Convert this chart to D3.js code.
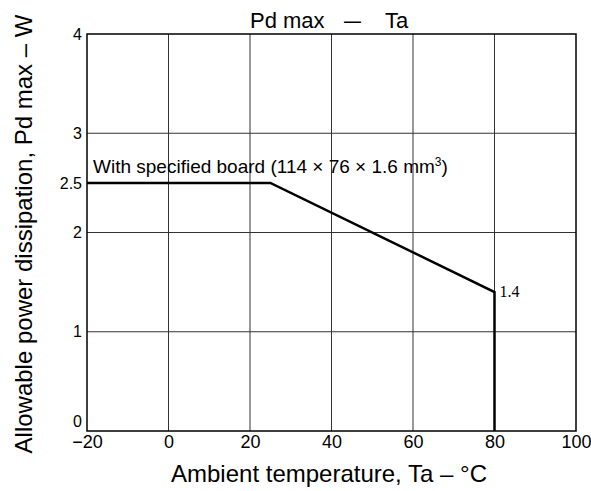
<!DOCTYPE html>
<html>
<head>
<meta charset="utf-8">
<script src="https://cdn.jsdelivr.net/npm/d3@7"></script>
<style>
  body { margin: 0; background: #fff; }
  svg text { fill: #000; }
</style>
</head>
<body>
<div id="chart"></div>
<script>
// derating curve, Pd max vs Ta
var temps = [-20, 25, 80, 80];
var power = [2.5, 2.5, 1.4, 0];
var xTicks = [-20, 0, 20, 40, 60, 80, 100];
var yTicks = [0, 1, 2, 2.5, 3, 4];
var yGrid = [1, 2, 3];

var width = 591, height = 491;
var margin = { top: 34, right: 15, bottom: 60, left: 87 };
var sans = "Arial, 'Liberation Sans', sans-serif";
var serif = "'Liberation Serif', 'DejaVu Serif', serif";

var svg = d3.select("#chart").append("svg")
  .attr("width", width)
  .attr("height", height)
  .style("font-family", sans);

var x = d3.scaleLinear().domain([-20, 100]).range([margin.left, 576]);
var y = d3.scaleLinear().domain([0, 4]).range([431, margin.top]);

// grid
svg.append("g").selectAll("line").data(xTicks.slice(1, -1)).enter().append("line")
  .attr("x1", d => x(d)).attr("x2", d => x(d))
  .attr("y1", y(0)).attr("y2", y(4))
  .attr("stroke", "#333").attr("stroke-width", 1);

svg.append("g").selectAll("line").data(yGrid).enter().append("line")
  .attr("x1", x(-20)).attr("x2", x(100))
  .attr("y1", d => y(d)).attr("y2", d => y(d))
  .attr("stroke", "#333").attr("stroke-width", 1);

// frame
svg.append("rect")
  .attr("x", x(-20)).attr("y", y(4))
  .attr("width", x(100) - x(-20)).attr("height", y(0) - y(4))
  .attr("fill", "none").attr("stroke", "#000").attr("stroke-width", 1.5);

// axes, no domain / tick marks
var xAxis = svg.append("g")
  .attr("transform", "translate(0," + y(0) + ")")
  .call(d3.axisBottom(x).tickValues(xTicks).tickSize(0).tickPadding(4)
    .tickFormat(d => d < 0 ? "\u2212" + Math.abs(d) : d));
xAxis.select(".domain").remove();
xAxis.selectAll("text").style("font-size", "18px").style("font-family", sans);

var yAxis = svg.append("g")
  .attr("transform", "translate(" + x(-20) + ",0)")
  .call(d3.axisLeft(y).tickValues(yTicks).tickSize(0).tickPadding(5)
    .tickFormat(d => d));
yAxis.select(".domain").remove();
yAxis.selectAll("text").style("font-size", "16px").style("font-family", sans);
// "0" sits just above the -20 label
yAxis.selectAll(".tick").filter(d => d === 0).select("text").attr("dy", "-0.3em");

// curve
var pts = temps.map((t, i) => [t, power[i]]);
svg.append("path")
  .datum(pts)
  .attr("d", d3.line().x(d => x(d[0])).y(d => y(d[1])))
  .attr("fill", "none").attr("stroke", "#000").attr("stroke-width", 2.5);

// labels
svg.append("text")
  .attr("x", x(80) + 5).attr("y", y(1.4) + 5)
  .attr("font-family", serif)
  .style("font-family", serif)
  .style("font-size", "16px")
  .text("1.4");

var note = svg.append("text")
  .attr("x", 93).attr("y", 173)
  .style("font-size", "19px");
note.append("tspan").text("With specified board (114 \u00d7 76 \u00d7 1.6 mm");
note.append("tspan").style("font-size", "12px").attr("dy", -7).text("3");
note.append("tspan").attr("dy", 7).text(")");

var title = svg.append("text").attr("y", 28).style("font-size", "22px");
title.append("tspan").attr("x", 250).text("Pd max");
title.append("tspan").attr("x", 344).attr("textLength", 17).attr("lengthAdjust", "spacingAndGlyphs").text("\u2013");
title.append("tspan").attr("x", 385).text("Ta");

svg.append("text")
  .attr("x", 329).attr("y", 482)
  .attr("text-anchor", "middle").style("font-size", "24px")
  .text("Ambient temperature, Ta \u2013 \u00b0C");

svg.append("text")
  .attr("transform", "translate(32,234) rotate(-90)")
  .attr("text-anchor", "middle").style("font-size", "24px")
  .text("Allowable power dissipation, Pd max \u2013 W");
</script>
</body>
</html>
